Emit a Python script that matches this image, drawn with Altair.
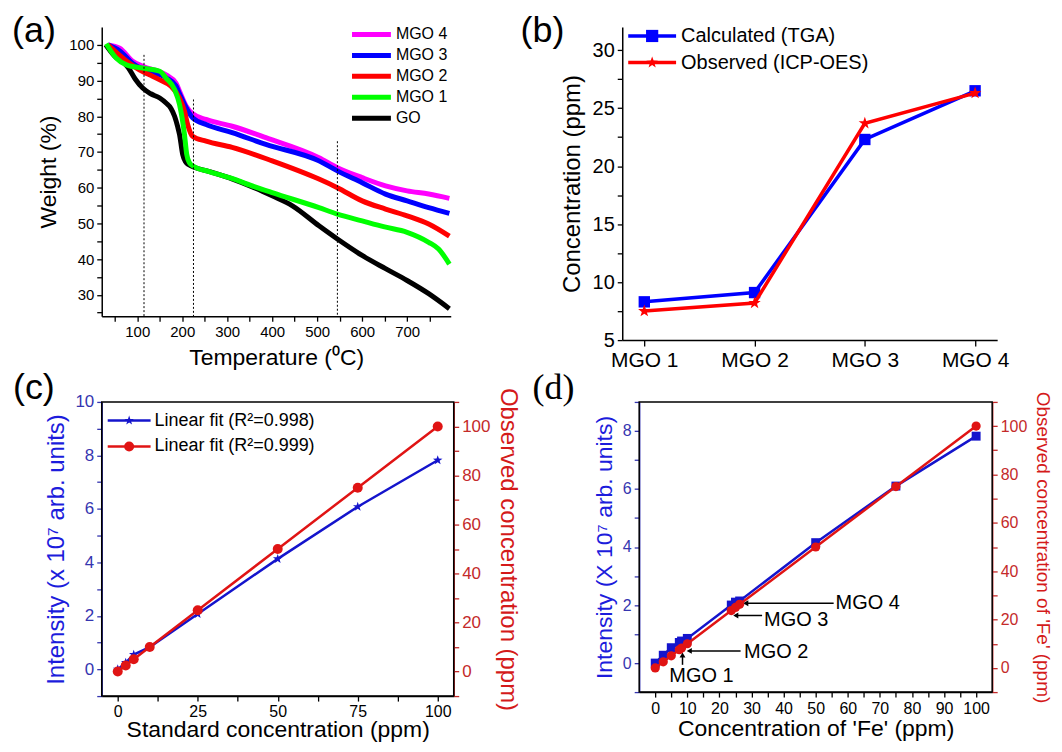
import math
import altair as alt
import pandas as pd

FONT = "Liberation Sans"
SERIF = "Liberation Serif"

# ---------------- (a) TGA curves ----------------
go_t = [30, 50, 70, 80, 95, 112, 130, 150, 164, 175, 183, 190, 194, 201, 207, 215, 225, 260, 312, 360, 400, 445, 504, 545, 600, 652, 700, 748, 794]
go_w = [100, 96.8, 95, 93.6, 90.5, 87.9, 86.3, 85.1, 83.7, 82.2, 80, 77, 74.9, 69.3, 67.3, 66.4, 65.8, 64.5, 62.4, 60, 57.7, 54.9, 49.3, 45.6, 41, 37.3, 34, 30.3, 26.1]
m1_t = [31, 53, 76, 112, 150, 164, 183, 194, 205, 210, 216, 225, 260, 312, 360, 400, 504, 545, 600, 650, 700, 748, 770, 794]
m1_w = [100.3, 96.3, 94.4, 93.5, 92.6, 90.7, 87.5, 83.3, 74.9, 69.3, 67, 66, 64.5, 62.5, 60.3, 58.6, 54.4, 52.6, 50.7, 49, 47.5, 44.7, 42.8, 38.6]
m2_t = [35, 76, 112, 127, 150, 175, 194, 205, 212, 223, 253, 311, 400, 504, 545, 600, 652, 700, 748, 794]
m2_w = [100, 95.5, 92.5, 91.6, 90.2, 88.4, 85.1, 81.4, 77.7, 74.4, 73, 71.3, 67.5, 62.4, 60, 56.3, 54, 52.1, 49.8, 46.4]
m3_t = [35, 61, 90, 112, 164, 186, 194, 209, 223, 253, 311, 386, 504, 545, 600, 652, 700, 748, 794]
m3_w = [100, 98.3, 94.8, 93.2, 90.8, 88.5, 86.3, 82.3, 79.6, 77.7, 75.4, 72.1, 67.5, 64.7, 61.4, 58.2, 56.3, 54.4, 52.8]
m4_t = [35, 61, 90, 112, 164, 186, 194, 209, 223, 253, 311, 386, 504, 545, 600, 652, 700, 748, 794]
m4_w = [100, 99.1, 95.4, 94, 91.6, 89.3, 87, 82.8, 80.7, 79.1, 77.2, 74, 68.4, 65.6, 62.8, 60.5, 59.1, 58.2, 57]
a_marker_t = [115, 225, 545]
a_marker_top = [97.2, 84.7, 73]
a_legend_order = ["MGO 4", "MGO 3", "MGO 2", "MGO 1", "GO"]
a_colors = ["#ff00ff", "#0000ff", "#ff0000", "#00ff00", "#000000"]

# ---------------- (b) ----------------
b_samples = ["MGO 1", "MGO 2", "MGO 3", "MGO 4"]
b_pos = [1, 2, 3, 4]
b_calc = [8.3, 9.1, 22.3, 26.5]
b_obs = [7.5, 8.2, 23.7, 26.3]
b_names = ["Calculated (TGA)", "Observed (ICP-OES)"]

# ---------------- (c) ----------------
c_std = [0, 2.5, 5, 10, 25, 50, 75, 100]
c_int = [0.0, 0.25, 0.55, 0.83, 2.07, 4.13, 6.08, 7.82]
c_obs = [0, 2.5, 5, 10, 25, 50, 75, 100]
c_names = ["Linear fit (R\u00b2=0.998)", "Linear fit (R\u00b2=0.999)"]

# ---------------- (d) ----------------
d_conc = [0, 2.5, 5, 7.5, 8.2, 10, 23.7, 25, 26.3, 50, 75, 100]
d_int = [0.0, 0.27, 0.53, 0.71, 0.76, 0.85, 2.0, 2.1, 2.14, 4.15, 6.1, 7.82]
d_obs = [0, 2.5, 5, 7.5, 8.2, 10, 23.7, 25, 26.3, 50, 75, 100]
ann_label = ["MGO 1", "MGO 2", "MGO 3", "MGO 4"]
ann_tx = [4.4, 27.7, 33.9, 56.2]
ann_ty = [-0.45, 0.37, 1.47, 2.06]
arr_x1 = [8.5, 26.6, 33.3, 55.6]
arr_y1 = [-0.06, 0.42, 1.64, 2.06]
arr_x2 = [8.5, 10.6, 25.1, 28.2]
arr_y2 = [0.28, 0.42, 1.64, 2.06]
arr_head = ["triangle-up", "triangle-left", "triangle-left", "triangle-left"]

BLUE = "#1414cc"
RED = "#e01414"
AX_BLUE = "#3535b0"
TITLE_BLUE = "#1c1cdc"
AX_RED = "#c42a2a"
TITLE_RED = "#d41a1a"


def star_path(ro=1.0, ri=0.4):
    pts = []
    for i in range(10):
        ang = -math.pi / 2 + i * math.pi / 5
        r = ro if i % 2 == 0 else ri
        pts.append(f"{r * math.cos(ang):.3f},{r * math.sin(ang):.3f}")
    return "M" + "L".join(pts) + "Z"


STAR = star_path()


def frange(a, b, s):
    out = []
    v = a
    while v <= b + 1e-9:
        out.append(round(v, 4))
        v += s
    return out


def axis(values, test, title, lsize, tsize, color="black", tcolor=None, orient=None,
         label_pad=3, title_pad=6):
    kw = dict(values=values,
              labelExpr=f"({test}) ? datum.label : ''",
              tickSize=5,
              grid=False, labelOverlap=False, labelFlush=False,
              labelFont=FONT, titleFont=FONT, labelFontSize=lsize, titleFontSize=tsize,
              titleFontWeight="normal", labelColor=color, tickColor=color,
              domainColor=color, titleColor=tcolor or color, title=title,
              tickWidth=1.3, domainWidth=1.5, labelPadding=label_pad, titlePadding=title_pad)
    if orient:
        kw["orient"] = orient
    return alt.Axis(**kw)


def xf(scale, ax):
    return lambda f: alt.X(f, scale=scale, axis=ax)


def yf(scale, ax):
    return lambda f: alt.Y(f, scale=scale, axis=ax)


def panel_label(txt, x, y, font=FONT, size=36):
    return alt.Chart(pd.DataFrame({"t": [txt]})).mark_text(
        align="left", baseline="alphabetic", fontSize=size, font=font, color="black"
    ).encode(text="t:N", x=alt.value(x), y=alt.value(y))


def px2x(px, dom, w):
    return dom[0] + px / w * (dom[1] - dom[0])


def px2y(py, dom, h):
    return dom[1] - py / h * (dom[1] - dom[0])


def legend_layers(labels, colors, shapes, FX, FY, dom_x, dom_y, w, h, x0, y0, line_len, gap, step,
                  fsize, lw, msize):
    n = len(labels)
    df = pd.DataFrame({
        "label": labels, "color": colors, "shape": shapes,
        "lx1": [px2x(x0, dom_x, w)] * n,
        "lx2": [px2x(x0 + line_len, dom_x, w)] * n,
        "lxm": [px2x(x0 + line_len / 2, dom_x, w)] * n,
        "ltx": [px2x(x0 + line_len + gap, dom_x, w)] * n,
        "ly": [px2y(y0 + i * step, dom_y, h) for i in range(n)],
    })
    base = alt.Chart(df)
    out = [base.mark_rule(strokeWidth=lw).encode(
        x=FX("lx1:Q"), x2="lx2:Q", y=FY("ly:Q"),
        color=alt.Color("color:N", scale=None))]
    if msize:
        out.append(base.mark_point(filled=True, size=msize, opacity=1).encode(
            x=FX("lxm:Q"), y=FY("ly:Q"), color=alt.Color("color:N", scale=None),
            shape=alt.Shape("shape:N", scale=None)))
    out.append(base.mark_text(align="left", baseline="middle", font=FONT, fontSize=fsize,
                              color="black").encode(x=FX("ltx:Q"), y=FY("ly:Q"), text="label:N"))
    return out


def frame(dom_x, dom_y, FX, FY):
    df = pd.DataFrame({"fx1": [dom_x[0]], "fx2": [dom_x[1]], "fy1": [dom_y[0]], "fy2": [dom_y[1]]})
    return alt.Chart(df).mark_rect(filled=False, stroke="black", strokeWidth=1.5).encode(
        x=FX("fx1:Q"), x2="fx2:Q", y=FY("fy1:Q"), y2="fy2:Q")


# ================= Panel (a) =================
WA, HA = 350, 290
DXA, DYA = [21, 797], [24, 105]
rows = []
for name, ts, ws in [("GO", go_t, go_w), ("MGO 4", m4_t, m4_w), ("MGO 3", m3_t, m3_w),
                     ("MGO 2", m2_t, m2_w), ("MGO 1", m1_t, m1_w)]:
    for t, w in zip(ts, ws):
        rows.append({"series": name, "T": t, "W": w})
df_a = pd.DataFrame(rows)
df_marks = pd.DataFrame({"T": a_marker_t, "wtop": a_marker_top, "wbot": [DYA[0]] * 3})

XA = xf(alt.Scale(domain=DXA, nice=False, zero=False),
        axis(frange(50, 750, 50), "datum.value % 100 === 0", "Temperature (\u2070C)", 15, 23,
             label_pad=3, title_pad=7))
YA = yf(alt.Scale(domain=DYA, nice=False, zero=False),
        axis(frange(25, 100, 5), "datum.value % 10 === 0", "Weight (%)", 15, 23,
             label_pad=3, title_pad=8))
lines_a = alt.Chart(df_a).mark_line(interpolate="monotone", strokeWidth=5).encode(
    x=XA("T:Q"), y=YA("W:Q"),
    color=alt.Color("series:N", scale=alt.Scale(domain=a_legend_order, range=a_colors), legend=None),
)
rules_a = alt.Chart(df_marks).mark_rule(color="black", strokeWidth=1, strokeDash=[2, 2]).encode(
    x=XA("T:Q"), y=YA("wtop:Q"), y2="wbot:Q")
leg_a = legend_layers(a_legend_order, a_colors, ["circle"] * 5, XA, YA, DXA, DYA, WA, HA,
                      251, 7.5, 39, 5, 21, 16, 5, 0)
panel_a = alt.layer(lines_a, rules_a, *leg_a, panel_label("(a)", -90, 15)).properties(width=WA, height=HA)

# ================= Panel (b) =================
WB, HB = 376, 314
DXB, DYB = [0.8, 4.2], [5, 32]
df_b = pd.DataFrame({"pos": b_pos * 2, "val": b_calc + b_obs,
                     "series": [b_names[0]] * 4 + [b_names[1]] * 4})
lab_b = "[" + ",".join(f"'{s}'" for s in b_samples) + "][datum.value - 1]"
XB = xf(alt.Scale(domain=DXB, nice=False, zero=False),
        alt.Axis(values=b_pos, labelExpr=lab_b, grid=False, labelFont=FONT, labelFontSize=21,
                 labelColor="black", tickColor="black", domainColor="black", tickSize=6,
                 tickWidth=1.3, domainWidth=1.5, title=None, labelPadding=3,
                 labelOverlap=False, labelFlush=False))
YB = yf(alt.Scale(domain=DYB, nice=False, zero=False),
        axis(frange(5, 30, 2.5), "datum.value % 5 === 0", "Concentration (ppm)", 20, 24,
             label_pad=3, title_pad=8))
b_line_calc = alt.Chart(df_b).transform_filter(f"datum.series === '{b_names[0]}'").mark_line(
    color="#0000ff", strokeWidth=3.5).encode(x=XB("pos:Q"), y=YB("val:Q"))
b_pts_calc = alt.Chart(df_b).transform_filter(f"datum.series === '{b_names[0]}'").mark_square(
    color="#0000ff", size=130, opacity=1).encode(x=XB("pos:Q"), y=YB("val:Q"))
b_line_obs = alt.Chart(df_b).transform_filter(f"datum.series === '{b_names[1]}'").mark_line(
    color="#ff0000", strokeWidth=3.5).encode(x=XB("pos:Q"), y=YB("val:Q"))
b_pts_obs = alt.Chart(df_b).transform_filter(f"datum.series === '{b_names[1]}'").mark_point(
    shape=STAR, filled=True, color="#ff0000", size=170, opacity=1).encode(x=XB("pos:Q"), y=YB("val:Q"))
leg_b = legend_layers(b_names, ["#0000ff", "#ff0000"], ["square", STAR], XB, YB, DXB, DYB, WB, HB,
                      6, 9, 48, 5, 26.7, 20, 3.5, 150)
panel_b = alt.layer(b_line_calc, b_pts_calc, b_line_obs, b_pts_obs, *leg_b,
                    panel_label("(b)", -102, 15)).properties(width=WB, height=HB)

# ================= Panel (c) =================
WC, HC = 353, 295
DXC, DYC, DYC2 = [-5, 105], [-1, 10], [-10, 110]
df_c = pd.DataFrame({"x": c_std, "inten": c_int, "obs": c_obs})
XC = xf(alt.Scale(domain=DXC, nice=False, zero=False),
        axis(frange(0, 100, 12.5), "datum.value % 25 === 0", "Standard concentration (ppm)", 16, 23,
             label_pad=2, title_pad=0))
YC = yf(alt.Scale(domain=DYC, nice=False, zero=False),
        axis(frange(-1, 10, 1), "datum.value >= 0 && datum.value % 2 === 0",
             "Intensity (x 10\u2077 arb. units)", 17, 24, color=AX_BLUE, tcolor=TITLE_BLUE,
             label_pad=3, title_pad=6))
YC2 = yf(alt.Scale(domain=DYC2, nice=False, zero=False),
         axis(frange(-10, 110, 10), "datum.value >= 0 && datum.value <= 100 && datum.value % 20 === 0",
              "Observed concentration (ppm)", 17, 24, color=AX_RED, tcolor=TITLE_RED,
              orient="right", label_pad=3, title_pad=6))
c_line_b = alt.Chart(df_c).mark_line(color=BLUE, strokeWidth=2.5).encode(x=XC("x:Q"), y=YC("inten:Q"))
c_pts_b = alt.Chart(df_c).mark_point(shape=STAR, filled=True, color=BLUE, size=100, opacity=1).encode(
    x=XC("x:Q"), y=YC("inten:Q"))
leg_c = legend_layers(c_names, [BLUE, RED], [STAR, "circle"], XC, YC, DXC, DYC, WC, HC,
                      6, 18.7, 43, 4, 26, 18, 2.5, 100)
c_left = alt.layer(c_line_b, frame(DXC, DYC, XC, YC), c_pts_b, *leg_c, panel_label("(c)", -89, -3))
c_line_r = alt.Chart(df_c).mark_line(color=RED, strokeWidth=2.5).encode(x=XC("x:Q"), y=YC2("obs:Q"))
c_pts_r = alt.Chart(df_c).mark_circle(color=RED, size=100, opacity=1).encode(x=XC("x:Q"), y=YC2("obs:Q"))
c_right = alt.layer(c_line_r, c_pts_r)
panel_c = alt.layer(c_left, c_right).resolve_scale(y="independent").properties(width=WC, height=HC)

# ================= Panel (d) =================
WD, HD = 354, 291
DXD, DYD, DYD2 = [-5, 105], [-1, 9], [-10, 110]
df_d = pd.DataFrame({"x": d_conc, "inten": d_int, "obs": d_obs})
df_ann = pd.DataFrame({"label": ann_label, "tx": ann_tx, "ty": ann_ty,
                       "x1": arr_x1, "y1": arr_y1, "x2": arr_x2, "y2": arr_y2, "head": arr_head})
XD = xf(alt.Scale(domain=DXD, nice=False, zero=False),
        axis(frange(0, 100, 5), "datum.value % 10 === 0", "Concentration of 'Fe' (ppm)", 16, 23,
             label_pad=3, title_pad=2))
YD = yf(alt.Scale(domain=DYD, nice=False, zero=False),
        axis(frange(-1, 9, 1), "datum.value >= 0 && datum.value % 2 === 0",
             "Intensity (X 10\u2077 arb. units)", 16, 23, color=AX_BLUE, tcolor=TITLE_BLUE,
             label_pad=3, title_pad=6))
YD2 = yf(alt.Scale(domain=DYD2, nice=False, zero=False),
         axis(frange(-10, 110, 10), "datum.value >= 0 && datum.value <= 100 && datum.value % 20 === 0",
              "Observed concentration of 'Fe' (ppm)", 16, 19, color=AX_RED, tcolor=TITLE_RED,
              orient="right", label_pad=3, title_pad=6))
d_line_b = alt.Chart(df_d).mark_line(color=BLUE, strokeWidth=2.5).encode(x=XD("x:Q"), y=YD("inten:Q"))
d_pts_b = alt.Chart(df_d).mark_square(color=BLUE, size=80, opacity=1).encode(x=XD("x:Q"), y=YD("inten:Q"))
d_arrows = alt.Chart(df_ann).mark_rule(color="black", strokeWidth=1.5).encode(
    x=XD("x1:Q"), y=YD("y1:Q"), x2="x2:Q", y2="y2:Q")
d_heads = alt.Chart(df_ann).mark_point(filled=True, color="black", size=35, opacity=1).encode(
    x=XD("x2:Q"), y=YD("y2:Q"), shape=alt.Shape("head:N", scale=None))
d_text = alt.Chart(df_ann).mark_text(align="left", baseline="middle", font=FONT, fontSize=20,
                                     color="black").encode(x=XD("tx:Q"), y=YD("ty:Q"), text="label:N")
d_left = alt.layer(d_line_b, frame(DXD, DYD, XD, YD), d_pts_b, d_arrows, d_heads, d_text,
                   panel_label("(d)", -107, -3, font=SERIF))
d_line_r = alt.Chart(df_d).mark_line(color=RED, strokeWidth=2.5).encode(x=XD("x:Q"), y=YD2("obs:Q"))
d_pts_r = alt.Chart(df_d).mark_circle(color=RED, size=85, opacity=1).encode(x=XD("x:Q"), y=YD2("obs:Q"))
d_right = alt.layer(d_line_r, d_pts_r)
panel_d = alt.layer(d_left, d_right).resolve_scale(y="independent").properties(width=WD, height=HD)

row1 = alt.hconcat(panel_a, panel_b, spacing=61)
row2 = alt.hconcat(panel_c, panel_d, spacing=12)
chart = alt.vconcat(row1, row2, spacing=0).properties(
    padding={"left": 4, "top": 4, "right": 2, "bottom": 0}
).configure_view(strokeWidth=0)

chart.save("out.html", embed_options={"renderer": "svg", "actions": False})
